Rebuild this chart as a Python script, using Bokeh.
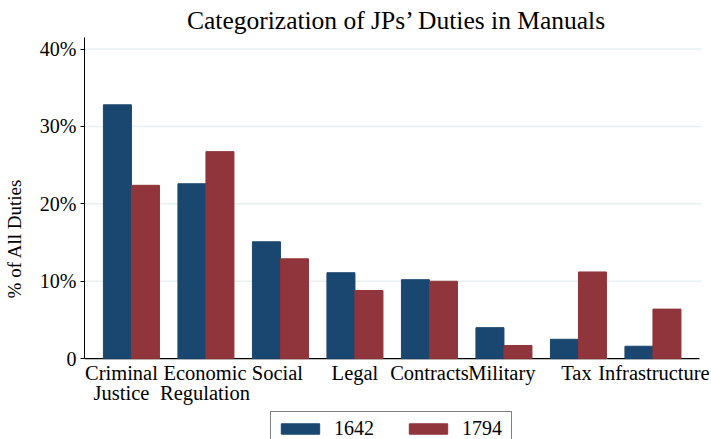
from bokeh.plotting import figure
from bokeh.models import (ColumnDataSource, FixedTicker, Legend, LegendItem,
                          Range1d, LabelSet)
from bokeh.transform import dodge
from bokeh.embed import file_html
from bokeh.resources import INLINE

categories = ["Criminal\nJustice", "Economic\nRegulation", "Social", "Legal",
              "Contracts", "Military", "Tax", "Infrastructure"]
series_names = ["1642", "1794"]
values_1642 = [32.8, 22.6, 15.1, 11.1, 10.2, 4.0, 2.5, 1.6]
values_1794 = [22.4, 26.75, 12.9, 8.8, 10.0, 1.7, 11.2, 6.4]
y_ticks = [0, 10, 20, 30, 40]
y_tick_labels = ["0", "10%", "20%", "30%", "40%"]
grid_ticks = [10, 20, 30, 40]

# horizontal nudges (px) of the category labels, as in the original layout
label_nudge = [-10, -1, -3, 0, 0, -2, -2, 1]

FONT = "Liberation Serif"
BLUE = "#1a476f"
RED = "#90353b"

xs = list(range(len(categories)))
line1 = [c.split("\n")[0] for c in categories]
line2 = [c.split("\n")[1] if "\n" in c else "" for c in categories]

src = ColumnDataSource(dict(x=xs, a=values_1642, b=values_1794))
lab1_src = ColumnDataSource(dict(x=xs, text=line1, dx=label_nudge))
lab2_src = ColumnDataSource(dict(x=xs, text=line2, dx=label_nudge))

X_START = -0.63
X_AXIS_END = 7.625
X_GRID_END = 7.65
X_END = 7.759
Y_TOP = 41.5
Y_BOTTOM = -10.45  # room below the axis for category labels and legend

p = figure(frame_width=625, frame_height=402, output_backend="svg", toolbar_location=None,
           x_range=Range1d(X_START, X_END), y_range=Range1d(Y_BOTTOM, Y_TOP),
           min_border_left=78, min_border_right=0, min_border_top=29,
           min_border_bottom=0)

# horizontal grid lines and x axis line
p.segment(x0=X_START, x1=X_GRID_END, y0=grid_ticks, y1=grid_ticks,
          line_color="#e8f0f2", line_width=1.5)
p.segment(x0=X_START, x1=X_AXIS_END, y0=0, y1=0, line_color="black", line_width=1.2)

bw = 0.376
r1 = p.vbar(x=dodge("x", -bw / 2), top="a", width=bw, bottom=0, source=src,
            fill_color=BLUE, line_color=BLUE)
r2 = p.vbar(x=dodge("x", bw / 2), top="b", width=bw, bottom=0, source=src,
            fill_color=RED, line_color=RED)

p.title.text = "Categorization of JPs\u2019 Duties in Manuals"
p.title.align = "center"
p.title.text_font = FONT
p.title.text_font_size = "25.5px"
p.title.text_font_style = "normal"
p.title.text_color = "black"
p.title.standoff = 6

p.outline_line_color = None
p.background_fill_color = "white"
p.border_fill_color = "white"

# y axis
p.yaxis.ticker = FixedTicker(ticks=y_ticks)
p.yaxis.bounds = (0, Y_TOP)
p.yaxis.major_label_overrides = {t: l for t, l in zip(y_ticks, y_tick_labels)}
p.yaxis.axis_label = "% of All Duties"
p.yaxis.axis_label_text_font = FONT
p.yaxis.axis_label_text_font_size = "19px"
p.yaxis.axis_label_text_font_style = "normal"
p.yaxis.axis_label_text_color = "black"
p.yaxis.axis_label_standoff = 12
p.yaxis.major_label_text_font = FONT
p.yaxis.major_label_text_font_size = "20px"
p.yaxis.major_label_text_color = "black"
p.yaxis.major_label_standoff = 4
p.yaxis.minor_tick_line_color = None
p.yaxis.major_tick_out = 4
p.yaxis.major_tick_in = 0
p.yaxis.axis_line_color = "black"
p.yaxis.major_tick_line_color = "black"

p.xaxis.visible = False
p.xgrid.grid_line_color = None
p.ygrid.grid_line_color = None

common = dict(x="x", y=0, text="text", x_offset="dx", text_align="center",
              text_baseline="top", text_font=FONT, text_font_size="20.5px",
              text_color="black")
p.add_layout(LabelSet(source=lab1_src, y_offset=-3, **common))
p.add_layout(LabelSet(source=lab2_src, y_offset=-23, **common))

legend = Legend(items=[LegendItem(label=series_names[0], renderers=[r1]),
                       LegendItem(label=series_names[1], renderers=[r2])],
                orientation="horizontal", location=(186, -7))
legend.label_text_font = FONT
legend.label_text_font_size = "20px"
legend.label_text_color = "black"
legend.glyph_width = 48
legend.glyph_height = 13
legend.label_height = 18
legend.label_width = 44
legend.label_standoff = 10
legend.spacing = 26
legend.padding = 5
legend.margin = 0
legend.border_line_color = "black"
legend.border_line_width = 1
legend.background_fill_alpha = 1
p.add_layout(legend, "center")

open("out.html", "w").write(file_html(p, INLINE))
